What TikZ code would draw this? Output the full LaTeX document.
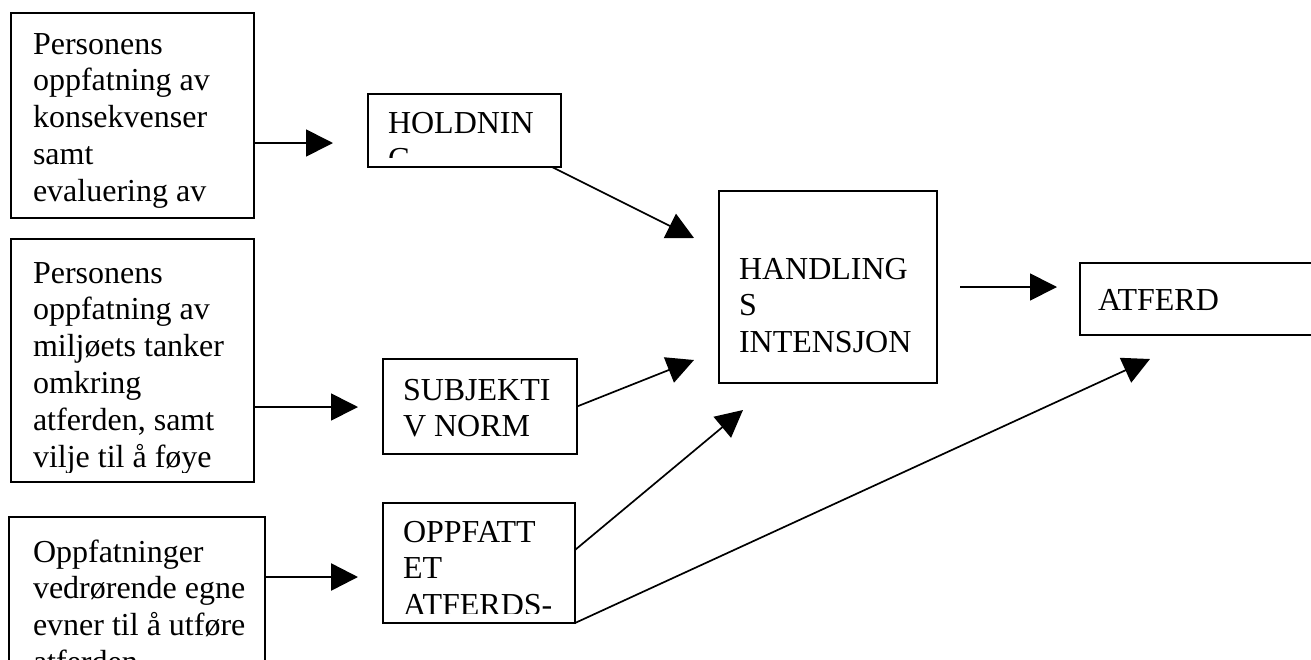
\documentclass[tikz,border=0pt]{standalone}
\usepackage{fontspec}
\setmainfont{Liberation Serif}
\usetikzlibrary{arrows.meta,positioning,calc}
\newcommand\boxfont{\fontsize{32}{36.8}\selectfont}

\begin{document}
\begin{tikzpicture}[x=1pt,y=-1pt,>={Triangle[length=27pt,width=27pt]},
    box/.style={draw,line width=1.8pt,anchor=north west,inner sep=0pt,outer sep=0pt},
    boxtext/.style n args={3}{path picture={
        \clip ([yshift=10pt]path picture bounding box.south west) rectangle (path picture bounding box.north east);
        \node[anchor=base west,inner sep=0pt,minimum width=0pt,minimum height=0pt,font=\boxfont]
          at ([shift={(#1,#2)}]path picture bounding box.north west)
          {\begin{tabular}[t]{@{}l@{}}#3\end{tabular}};}},
    link/.style={->,line width=1.7pt}]
  \useasboundingbox (0,0) rectangle (1311,659);
  % left column
  \node[box,minimum width=243pt,minimum height=205pt,
    boxtext={22}{41}{Personens\\oppfatning av\\konsekvenser\\samt\\evaluering av}] (pers) at (11,13) {};
  \node[box,minimum width=243pt,minimum height=243pt,
    boxtext={22}{44}{Personens\\oppfatning av\\miljøets tanker\\omkring\\atferden, samt\\vilje til å føye}] (env) at (11,239) {};
  \node[box,minimum width=256pt,minimum height=200pt,
    boxtext={24}{45}{Oppfatninger\\vedrørende egne\\evner til å utføre\\atferden}] (abil) at (9,517) {};
  % middle column
  \node[box,minimum width=193pt,minimum height=73pt,boxtext={20}{39}{HOLDNIN\\G}] (att) at (368,94) {};
  \node[box,minimum width=194pt,minimum height=95pt,boxtext={20}{41}{SUBJEKTI\\V NORM}] (norm) at (383,359) {};
  \node[box,minimum width=192pt,minimum height=120pt,boxtext={20}{39}{OPPFATT\\ET\\ATFERDS-}] (ctrl) at (383,503) {};
  % right part
  \node[box,minimum width=218pt,minimum height=192pt,boxtext={20}{88}{HANDLING\\S\\INTENSJON}] (intent) at (719,191) {};
  \node[box,minimum width=240pt,minimum height=72pt,boxtext={18}{47}{ATFERD}] (beh) at (1080,263) {};

  % arrow tips
  \coordinate (t1) at (333,143);
  \coordinate (t2) at (694,238);
  \coordinate (t3) at (358,407);
  \coordinate (t4) at (694,360);
  \coordinate (t5) at (358,577);
  \coordinate (t6) at (743,410);
  \coordinate (t7) at (1150,359);
  \coordinate (t8) at (1057,287);
  \foreach \u/\v in {pers.east |- t1/t1,env.east |- t3/t3,norm.east/t4,ctrl.south east/t7}
    \draw[link] (\u)--(\v);
  \draw[link] ([xshift=-9pt]att.south east)--(t2);
  \draw[link] ([yshift=13pt]ctrl.east)--(t6);
  \draw[link] ([xshift=23pt]intent.east)--(t8);
  \draw[link,line width=2.6pt] (abil.east |- t5)--(t5);
\end{tikzpicture}
\end{document}
